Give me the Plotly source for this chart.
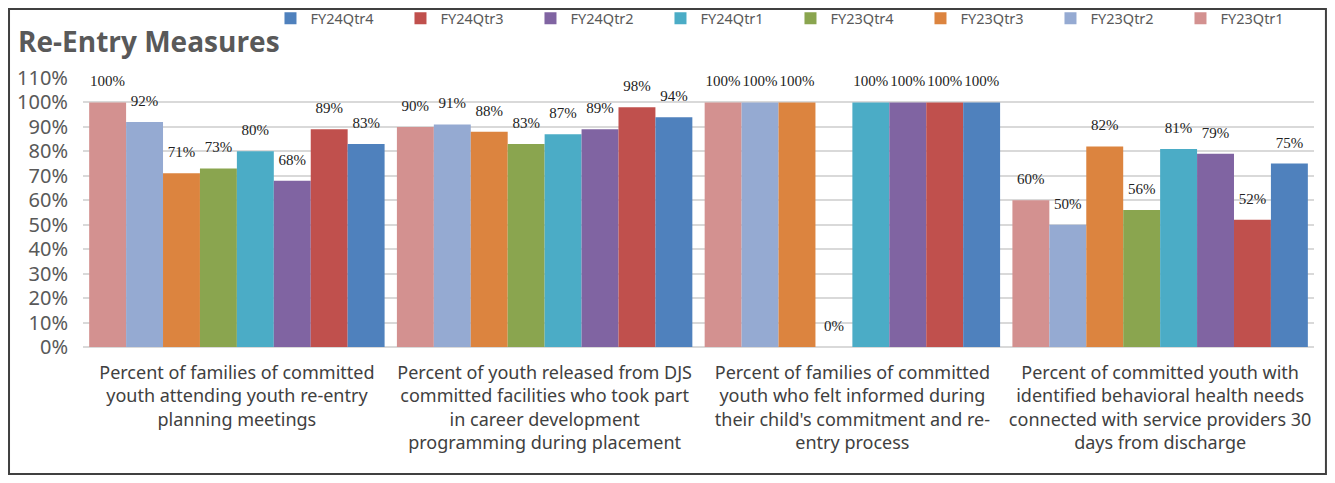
import plotly.graph_objects as go

# categories (wrapped like the original axis labels)
categories = [
    "Percent of families of committed<br>youth attending youth re-entry<br>planning meetings",
    "Percent of youth released from DJS<br>committed facilities who took part<br>in career development<br>programming during placement",
    "Percent of families of committed<br>youth who felt informed during<br>their child's commitment and re-<br>entry process",
    "Percent of committed youth with<br>identified behavioral health needs<br>connected with service providers 30<br>days from discharge",
]

fy23q1 = [100, 90, 100, 60]
fy23q2 = [92, 91, 100, 50]
fy23q3 = [71, 88, 100, 82]
fy23q4 = [73, 83, 0, 56]
fy24q1 = [80, 87, 100, 81]
fy24q2 = [68, 89, 100, 79]
fy24q3 = [89, 98, 100, 52]
fy24q4 = [83, 94, 100, 75]

series = [
    ("FY23Qtr1", fy23q1, "#D39190"),
    ("FY23Qtr2", fy23q2, "#95AAD2"),
    ("FY23Qtr3", fy23q3, "#DC843F"),
    ("FY23Qtr4", fy23q4, "#8AA54F"),
    ("FY24Qtr1", fy24q1, "#4BACC6"),
    ("FY24Qtr2", fy24q2, "#8064A2"),
    ("FY24Qtr3", fy24q3, "#C0504D"),
    ("FY24Qtr4", fy24q4, "#4F81BD"),
]

y_ticks = list(range(0, 111, 10))
y_labels = [f"{t}%" for t in y_ticks]

fig = go.Figure()
for name, vals, color in series:
    fig.add_trace(go.Bar(
        name=name, x=categories, y=vals, offsetgroup=name,
        marker_color=color, marker_line_width=0,
    ))

# data labels as grouped text scatters, sitting a bit above each bar
for name, vals, color in series:
    fig.add_trace(go.Scatter(
        x=categories, y=vals, offsetgroup=name, mode="markers+text",
        text=[f"{v}%" for v in vals], textposition="top center",
        textfont=dict(family="Liberation Serif", size=15, color="#222222"),
        marker=dict(size=18, opacity=0),
        showlegend=False, hoverinfo="skip", cliponaxis=False,
    ))

fig.update_layout(
    width=1319, height=467,
    paper_bgcolor="white", plot_bgcolor="white",
    margin=dict(l=75, r=13, t=70, b=128, autoexpand=False),
    barmode="group", bargap=0.04, bargroupgap=0,
    scattermode="group", scattergap=0.04,
    title=dict(text="<b>Re-Entry Measures</b>", x=0.0076, xanchor="left",
               y=0.927, yanchor="middle",
               font=dict(family="Open Sans", size=28, color="#595959")),
    legend=dict(orientation="h", traceorder="reversed",
                xref="container", yref="container",
                x=0.199, xanchor="left", y=0.978, yanchor="middle",
                font=dict(family="Noto Sans", size=14.5, color="#595959"),
                itemwidth=30, entrywidth=85, bgcolor="rgba(0,0,0,0)"),
    xaxis=dict(tickfont=dict(family="Noto Sans", size=18, color="#404040"),
               showgrid=False, ticks="", showline=False, automargin=False,
               ticklabelstandoff=13),
    yaxis=dict(range=[0, 110], tickvals=y_ticks, ticktext=y_labels,
               tickfont=dict(family="Noto Sans", size=20, color="#595959"),
               showgrid=True, gridcolor="#D9D9D9", gridwidth=2,
               zeroline=True, zerolinecolor="#D9D9D9", zerolinewidth=2,
               showline=False, ticks="", automargin=False,
               ticklabelstandoff=14),
)

# chart frame
fig.add_shape(type="rect", xref="paper", yref="paper",
              x0=-0.0601, x1=1.0097, y0=-0.472, y1=1.2565,
              line=dict(color="#404040", width=2))

fig.write_html("out.html")
